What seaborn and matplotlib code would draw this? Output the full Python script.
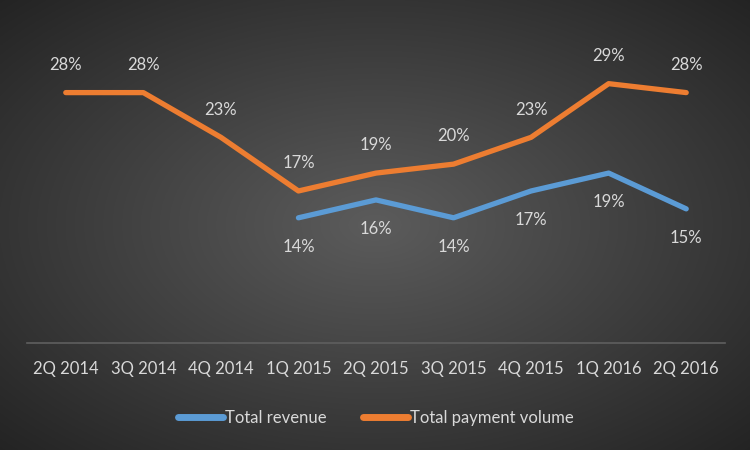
import numpy as np
import pandas as pd
import matplotlib
matplotlib.use("Agg")
import matplotlib.pyplot as plt
import seaborn as sns

quarters = ["2Q 2014", "3Q 2014", "4Q 2014", "1Q 2015", "2Q 2015",
            "3Q 2015", "4Q 2015", "1Q 2016", "2Q 2016"]
revenue = [None, None, None, 14, 16, 14, 17, 19, 15]
payment_volume = [28, 28, 23, 17, 19, 20, 23, 29, 28]

BLUE = "#5B9BD5"
ORANGE = "#ED7D31"
TEXT = "#D9D9D9"

sns.set_style("white")
plt.rcParams["font.family"] = ["Lato", "DejaVu Sans"]

df = pd.DataFrame({
    "quarter": quarters * 2,
    "pos": list(range(len(quarters))) * 2,
    "value": revenue + payment_volume,
    "series": ["Total revenue"] * len(quarters) + ["Total payment volume"] * len(quarters),
}).dropna()

fig = plt.figure(figsize=(7.5, 4.5), dpi=100)

# radial gradient background
bg = fig.add_axes([0, 0, 1, 1])
yy, xx = np.mgrid[-1:1:300j, -1:1:500j]
r = np.sqrt(xx ** 2 + yy ** 2) / np.sqrt(2)
shade = 0.36 - 0.22 * r
bg.imshow(np.dstack([shade] * 3), aspect="auto", extent=[0, 1, 0, 1])
bg.axis("off")

ax = fig.add_axes([27 / 750, 1 - 343 / 450, 698 / 750, 313 / 450])
ax.patch.set_alpha(0)
sns.lineplot(data=df, x="pos", y="value", hue="series",
             palette={"Total revenue": BLUE, "Total payment volume": ORANGE},
             hue_order=["Total revenue", "Total payment volume"],
             linewidth=3.8, ax=ax, legend=True)

for i, v in enumerate(payment_volume):
    ax.annotate(f"{v}%", (i, v), xytext=(0, 20), textcoords="offset points",
                ha="center", va="center", color=TEXT, fontsize=12)
for i, v in enumerate(revenue):
    if v is not None:
        ax.annotate(f"{v}%", (i, v), xytext=(0, -21), textcoords="offset points",
                    ha="center", va="center", color=TEXT, fontsize=12)

ax.set_xlim(-0.5, len(quarters) - 0.5)
ax.set_ylim(0, 35)
ax.set_xticks(range(len(quarters)))
ax.set_xticklabels(quarters, color=TEXT, fontsize=12)
ax.tick_params(axis="x", length=0, pad=13)
ax.set_yticks([])
ax.set_xlabel("")
ax.set_ylabel("")
for side in ["top", "left", "right"]:
    ax.spines[side].set_visible(False)
ax.spines["bottom"].set_color("#5F5F5F")
ax.spines["bottom"].set_linewidth(1.2)

leg = ax.legend(loc="upper center", bbox_to_anchor=(0.5, -0.165), ncol=2,
                frameon=False, fontsize=12, handlelength=2.7, handletextpad=0.1,
                columnspacing=2.2)
for t in leg.get_texts():
    t.set_color(TEXT)
for h in leg.legend_handles:
    h.set_linewidth(5)
    h.set_solid_capstyle("round")

fig.savefig("out.png", dpi=100)
